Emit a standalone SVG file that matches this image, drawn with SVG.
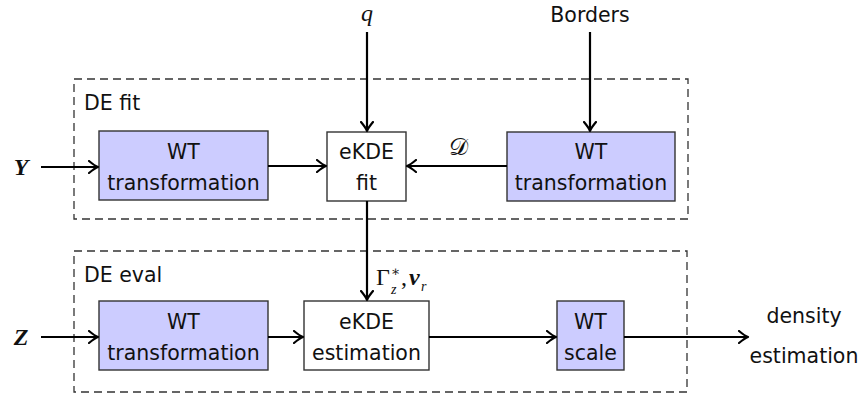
<svg xmlns="http://www.w3.org/2000/svg" width="865" height="396" viewBox="0 0 865 396">
  <style>
    .frame { fill: none; stroke: #333; stroke-width: 1.3; stroke-dasharray: 8 5; }
    .blk { stroke: #333; stroke-width: 1.4; }
    .wt { fill: #ccccff; }
    .plain { fill: #ffffff; }
    .lbl { font-family: "DejaVu Sans", sans-serif; font-size: 20.5px; fill: #111; }
    .mid { text-anchor: middle; }
    .math { font-family: "Liberation Serif", "DejaVu Serif", serif; font-size: 24px; fill: #111; }
    .sub { font-family: "Liberation Serif", "DejaVu Serif", serif; font-size: 14px; fill: #111; }
    .wire { fill: none; stroke: #000; stroke-width: 2.2; marker-end: url(#tip); }
  </style>
  <defs>
    <marker id="tip" viewBox="-10 -7 12 14" refX="0" refY="0" markerWidth="12" markerHeight="14" markerUnits="userSpaceOnUse" orient="auto">
      <path d="M -9 -6 Q -3 -1 0 0 Q -3 1 -9 6" fill="none" stroke="#000" stroke-width="2.2" stroke-linecap="round" stroke-linejoin="round"/>
    </marker>
  </defs>

  <!-- stage frames -->
  <g id="fit-stage">
    <rect class="frame" x="74" y="79" width="614" height="140"/>
    <text class="lbl" x="84" y="110">DE fit</text>
  </g>
  <g id="eval-stage">
    <rect class="frame" x="74" y="251" width="613" height="141"/>
    <text class="lbl" x="84" y="282">DE eval</text>
  </g>

  <!-- fit stage blocks -->
  <g id="wt-fit-in">
    <rect class="blk wt" x="99" y="131" width="169" height="69"/>
    <text class="lbl mid" x="183.5" y="159">WT</text>
    <text class="lbl mid" x="183.5" y="190">transformation</text>
  </g>
  <g id="ekde-fit">
    <rect class="blk plain" x="327" y="132" width="79" height="69"/>
    <text class="lbl mid" x="366.5" y="159">eKDE</text>
    <text class="lbl mid" x="366.5" y="190">fit</text>
  </g>
  <g id="wt-borders">
    <rect class="blk wt" x="507" y="132" width="168" height="69"/>
    <text class="lbl mid" x="591" y="159">WT</text>
    <text class="lbl mid" x="591" y="190">transformation</text>
  </g>

  <!-- eval stage blocks -->
  <g id="wt-eval-in">
    <rect class="blk wt" x="99" y="301" width="169" height="69"/>
    <text class="lbl mid" x="183.5" y="329">WT</text>
    <text class="lbl mid" x="183.5" y="360">transformation</text>
  </g>
  <g id="ekde-est">
    <rect class="blk plain" x="304" y="301" width="125" height="69"/>
    <text class="lbl mid" x="366.5" y="329">eKDE</text>
    <text class="lbl mid" x="366.5" y="360">estimation</text>
  </g>
  <g id="wt-scale">
    <rect class="blk wt" x="557" y="301" width="67" height="69"/>
    <text class="lbl mid" x="590.5" y="329">WT</text>
    <text class="lbl mid" x="590.5" y="360">scale</text>
  </g>

  <!-- inputs and outputs -->
  <g id="in-Y"><text class="math" x="21" y="175" text-anchor="middle" font-weight="bold" font-style="italic">Y</text></g>
  <g id="in-Z"><text class="math" x="21" y="345" text-anchor="middle" font-weight="bold" font-style="italic">Z</text></g>
  <g id="in-q"><text class="math" x="367" y="21" text-anchor="middle" font-style="italic">q</text></g>
  <g id="in-borders"><text class="lbl mid" x="590" y="22">Borders</text></g>
  <g id="out-density">
    <text class="lbl mid" x="804" y="323">density</text>
    <text class="lbl mid" x="804" y="363">estimation</text>
  </g>

  <!-- connectors -->
  <g id="connectors">
    <path class="wire" d="M 41 167 H 98"/>
    <path class="wire" d="M 268 166 H 326"/>
    <path class="wire" d="M 507 166 H 407"/>
    <path class="wire" d="M 367 32 V 131"/>
    <path class="wire" d="M 590 32 V 131"/>
    <path class="wire" d="M 367 201 V 300"/>
    <path class="wire" d="M 41 337 H 98"/>
    <path class="wire" d="M 268 337 H 303"/>
    <path class="wire" d="M 429 337 H 556"/>
    <path class="wire" d="M 624 337 H 748"/>
    <text class="math" x="458" y="155" text-anchor="middle">𝒟</text>
    <!-- Gamma*_z , nu_r -->
    <text class="math" x="376" y="285" font-size="21">Γ</text>
    <text class="sub" x="391" y="276">∗</text>
    <text class="sub" x="391" y="294" font-style="italic">z</text>
    <text class="math" x="401" y="285" font-size="21">,</text>
    <text class="math" x="409" y="285" font-size="21" font-weight="bold" font-style="italic">ν</text>
    <text class="sub" x="421" y="291" font-style="italic">r</text>
  </g>
</svg>
